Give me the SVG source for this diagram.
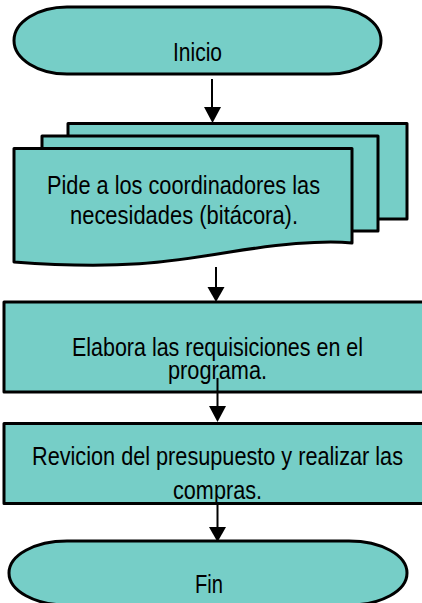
<svg xmlns="http://www.w3.org/2000/svg" width="422" height="603" viewBox="0 0 422 603">
  <style>
    .shape { fill: #76cec7; stroke: #000; stroke-width: 3; stroke-linejoin: round; }
    .lbl { font-family: "Liberation Sans", Arial, sans-serif; font-size: 25px; fill: #000; }
    .conn { stroke: #000; stroke-width: 2; fill: none; }
    .head { fill: #000; stroke: none; }
  </style>
  <rect width="422" height="603" fill="#fff"/>
  <g id="inicio">
    <path class="shape" d="M67,7 L329,7 C358,7 381,22 381,40.5 C381,59 358,74 329,74 L67,74 C38,74 14,59 14,40.5 C14,22 38,7 67,7 Z"/>
    <text class="lbl" x="173" y="61" textLength="49" lengthAdjust="spacingAndGlyphs">Inicio</text>
  </g>
  <g id="pide">
    <rect class="shape" x="68" y="123.5" width="339" height="95.5"/>
    <rect class="shape" x="42" y="136" width="336" height="95"/>
    <path class="shape" d="M14,148.5 L352,148.5 L352,243 C320,240 280,244 230,252 C170,262 120,270 14,262 Z"/>
    <text class="lbl" x="47" y="194" textLength="273" lengthAdjust="spacingAndGlyphs">Pide a los coordinadores las</text>
    <text class="lbl" x="70" y="224" textLength="228" lengthAdjust="spacingAndGlyphs">necesidades (bitácora).</text>
  </g>
  <g id="elabora">
    <rect class="shape" x="4" y="302" width="430" height="90"/>
    <text class="lbl" x="72" y="356" textLength="291" lengthAdjust="spacingAndGlyphs">Elabora las requisiciones en el</text>
    <text class="lbl" x="168" y="379" textLength="99" lengthAdjust="spacingAndGlyphs">programa.</text>
  </g>
  <g id="revicion">
    <rect class="shape" x="4" y="423.5" width="430" height="80"/>
    <text class="lbl" x="32" y="465" textLength="371" lengthAdjust="spacingAndGlyphs">Revicion del presupuesto y realizar las</text>
    <text class="lbl" x="173" y="499" textLength="89" lengthAdjust="spacingAndGlyphs">compras.</text>
  </g>
  <g id="fin">
    <path class="shape" d="M67,541 L349,541 C381,541 407,555 407,573 C407,591 381,605 349,605 L67,605 C35,605 9,591 9,573 C9,555 35,541 67,541 Z"/>
    <text class="lbl" x="195" y="593" textLength="28" lengthAdjust="spacingAndGlyphs">Fin</text>
  </g>
  <g id="connectors">
    <line class="conn" x1="212" y1="79" x2="212" y2="108"/>
    <polygon class="head" points="204,107 221,107 212.5,123"/>
    <line class="conn" x1="216" y1="267" x2="216" y2="288"/>
    <polygon class="head" points="207.5,287 224.5,287 216,302"/>
    <line class="conn" x1="217.5" y1="378" x2="217.5" y2="407"/>
    <polygon class="head" points="209,406 226,406 217.5,422"/>
    <line class="conn" x1="217.5" y1="503" x2="217.5" y2="528"/>
    <polygon class="head" points="209,527 226,527 217.5,542"/>
  </g>
</svg>
